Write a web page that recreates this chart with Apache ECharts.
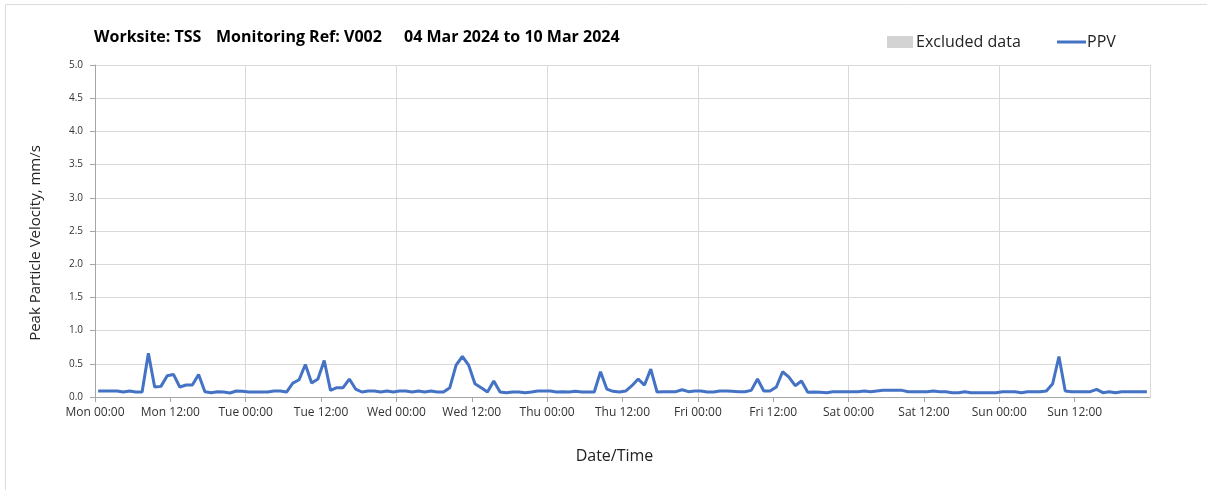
<!DOCTYPE html>
<html>
<head>
<meta charset="utf-8">
<script src="https://cdn.jsdelivr.net/npm/echarts@6/dist/echarts.min.js"></script>
<style>
    html, body { margin: 0; padding: 0; background: #fff; }
    #chart { width: 1207px; height: 490px; }
</style>
</head>
<body>
<div id="chart"></div>
<script>
// hourly PPV readings, Mon 00:30 onwards (mm/s)
const ppv = [
    0.09, 0.09, 0.09, 0.09, 0.075, 0.09, 0.075, 0.075, 0.66, 0.15, 0.16, 0.32,
    0.34, 0.15, 0.18, 0.18, 0.34, 0.08, 0.065, 0.08, 0.075, 0.06, 0.09, 0.085,
    0.075, 0.075, 0.075, 0.075, 0.09, 0.09, 0.075, 0.21, 0.26, 0.49, 0.21, 0.27,
    0.55, 0.10, 0.14, 0.14, 0.27, 0.12, 0.075, 0.09, 0.09, 0.075, 0.09, 0.075,
    0.09, 0.09, 0.075, 0.09, 0.075, 0.09, 0.075, 0.075, 0.14, 0.48, 0.61, 0.48,
    0.20, 0.14, 0.075, 0.24, 0.075, 0.065, 0.075, 0.075, 0.065, 0.075, 0.09, 0.09,
    0.09, 0.075, 0.08, 0.075, 0.085, 0.075, 0.075, 0.075, 0.38, 0.12, 0.085, 0.075,
    0.09, 0.17, 0.27, 0.18, 0.42, 0.075, 0.08, 0.08, 0.08, 0.11, 0.08, 0.09,
    0.09, 0.075, 0.075, 0.09, 0.09, 0.085, 0.08, 0.08, 0.10, 0.27, 0.09, 0.09,
    0.15, 0.38, 0.30, 0.17, 0.24, 0.07, 0.075, 0.07, 0.065, 0.08, 0.08, 0.08,
    0.08, 0.08, 0.09, 0.08, 0.09, 0.10, 0.10, 0.10, 0.10, 0.08, 0.08, 0.08,
    0.08, 0.09, 0.08, 0.08, 0.065, 0.065, 0.08, 0.065, 0.065, 0.065, 0.065, 0.065,
    0.08, 0.08, 0.08, 0.065, 0.08, 0.08, 0.08, 0.09, 0.20, 0.61, 0.09, 0.08,
    0.08, 0.08, 0.08, 0.115, 0.065, 0.08, 0.065, 0.08, 0.08, 0.08, 0.08, 0.08
];
const dayNames = ['Mon', 'Tue', 'Wed', 'Thu', 'Fri', 'Sat', 'Sun'];
const yTicks = [0, 0.5, 1, 1.5, 2, 2.5, 3, 3.5, 4, 4.5, 5];
const titleParts = ['Worksite: TSS', 'Monitoring Ref: V002', '04 Mar 2024 to 10 Mar 2024'];

const chart = echarts.init(document.getElementById('chart'));

// hours since Mon 00:00, readings sit at the half hour
const points = ppv.map((v, i) => [i + 0.5, v]);

const font = '"Open Sans", "Noto Sans", sans-serif';
const gridColor = '#d9d9d9';
const titleX = [94, 216, 404];

const titleStyle = (text) => ({
    text,
    fill: '#000',
    font: 'bold 16px ' + font,
    textVerticalAlign: 'middle',
});

const option = {
    backgroundColor: '#fff',
    textStyle: { fontFamily: font },
    legend: [
        {
            data: [{ name: 'Excluded data', icon: 'rect' }],
            left: 882,
            top: 29,
            itemWidth: 26,
            itemHeight: 12,
            itemGap: 0,
            textStyle: { fontSize: 16, color: '#222', padding: [0, 0, 0, -2] },
        },
        {
            data: [{ name: 'PPV', icon: 'rect' }],
            left: 1052,
            top: 29,
            itemWidth: 29,
            itemHeight: 3,
            textStyle: { fontSize: 16, color: '#222', padding: [0, 0, 0, -4] },
        },
    ],
    graphic: [
        {
            type: 'rect',
            shape: { x: 5.5, y: 4.5, width: 1300, height: 600 },
            style: { fill: 'none', stroke: '#dcdcdc', lineWidth: 1 },
            silent: true,
        },
        ...titleParts.map((t, i) => ({
            type: 'text',
            x: titleX[i],
            y: 37,
            style: titleStyle(t),
            silent: true,
        })),
    ],
    grid: {
        left: 95,
        right: 57,
        top: 65,
        bottom: 93,
    },
    xAxis: [
        {
            type: 'value',
            min: 0,
            max: 168,
            interval: 12,
            name: 'Date/Time',
            nameLocation: 'middle',
            nameGap: 51,
            nameTextStyle: { fontSize: 16, color: '#222', padding: [0, 16, 0, 0] },
            axisLine: { show: true, lineStyle: { color: '#a6a6a6', width: 1 } },
            axisTick: { show: true, length: 5, lineStyle: { color: '#a6a6a6' } },
            axisLabel: {
                fontSize: 12,
                color: '#333',
                margin: 10,
                showMaxLabel: false,
                formatter: (v) => {
                    if (v >= 168) return '';
                    return dayNames[Math.floor(v / 24)] + ' ' + (v % 24 === 0 ? '00:00' : '12:00');
                },
            },
            splitLine: { show: false },
        },
        {
            type: 'value',
            min: 0,
            max: 168,
            interval: 24,
            position: 'bottom',
            axisLine: { show: false },
            axisTick: { show: false },
            axisLabel: { show: false },
            splitLine: { show: true, lineStyle: { color: gridColor, width: 1 } },
        },
    ],
    yAxis: {
        type: 'value',
        min: 0,
        max: 5,
        interval: 0.5,
        name: 'Peak Particle Velocity, mm/s',
        nameLocation: 'middle',
        nameGap: 52,
        nameTextStyle: { fontSize: 15, color: '#222', padding: [0, 24, 0, 0] },
        axisLine: { show: true, lineStyle: { color: '#a6a6a6', width: 1 } },
        axisTick: { show: true, length: 5, lineStyle: { color: '#a6a6a6' } },
        axisLabel: {
            fontSize: 10,
            color: '#333',
            margin: 12,
            formatter: (v) => (yTicks.includes(v) ? v.toFixed(1) : ''),
        },
        splitLine: { show: true, lineStyle: { color: gridColor, width: 1 } },
    },
    series: [
        {
            name: 'Excluded data',
            type: 'bar',
            data: [],
            itemStyle: { color: '#d3d3d3' },
        },
        {
            name: 'PPV',
            type: 'line',
            data: points,
            showSymbol: false,
            symbol: 'none',
            lineStyle: { color: '#4472c4', width: 3 },
            itemStyle: { color: '#4472c4' },
        },
    ],
    animation: false,
};

chart.setOption(option);
</script>
</body>
</html>
